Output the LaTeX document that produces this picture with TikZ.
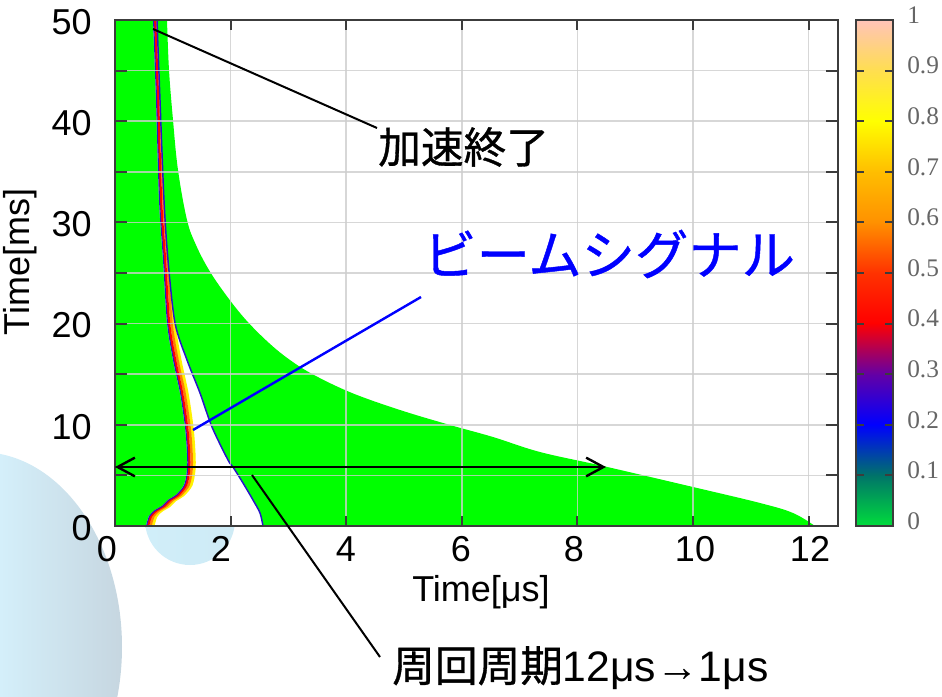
\documentclass[tikz,border=0pt]{standalone}
\usepackage{fontspec}
\setmainfont{Liberation Sans}
\newfontfamily\jpfont[FakeBold=0.8]{Noto Sans CJK JP}
\newfontfamily\barfont{Liberation Serif}
\usetikzlibrary{arrows.meta}

\definecolor{plotgreen}{RGB}{0,255,0}
\definecolor{beamblue}{RGB}{40,20,200}
\definecolor{labelblue}{RGB}{0,0,255}
\definecolor{gridgray}{RGB}{205,205,205}
\definecolor{framegray}{RGB}{60,60,60}
\definecolor{ballleft}{RGB}{212,239,250}
\definecolor{ballright}{RGB}{198,214,224}
\definecolor{smallball}{RGB}{208,238,249}
% colour bar stops 0 ... 1
\definecolor{cb0}{RGB}{0,220,60}
\definecolor{cb1}{RGB}{0,115,105}
\definecolor{cb2}{RGB}{0,0,255}
\definecolor{cb3}{RGB}{100,0,165}
\definecolor{cb4}{RGB}{255,0,0}
\definecolor{cb5}{RGB}{255,50,0}
\definecolor{cb6}{RGB}{255,145,0}
\definecolor{cb7}{RGB}{255,190,0}
\definecolor{cb8}{RGB}{255,255,0}
\definecolor{cb9}{RGB}{255,222,80}
\definecolor{cb10}{RGB}{255,195,185}

\begin{document}
\begin{tikzpicture}[x=0.75pt,y=-0.75pt,
  tick label/.style={font=\fontsize{27}{30}\selectfont, inner sep=0pt},
  bar label/.style={font=\barfont\fontsize{19}{22}\selectfont, text=black!60, anchor=west, inner sep=0pt},
  jp label/.style={font=\jpfont\fontsize{32}{36}\selectfont, inner sep=0pt, anchor=west},
  leader/.style={black, line width=1.5pt}]
\useasboundingbox (0,0) rectangle (942,696);

% background balls
\begin{scope}
  \clip (-20,647) ellipse [x radius=106.5pt, y radius=146.25pt];
  \shade[left color=ballleft, right color=ballright] (0,440) rectangle (123,696);
\end{scope}
\shade[left color=smallball, right color=smallball!85!ballright] (190,520) circle [radius=33.75pt];

% plot area
\fill[white] (115,20) rectangle (838,526);
\fill[plotgreen] (115,20) -- plot[smooth, tension=0.6] coordinates {(167,20) (169,70) (173,120) (178,170) (187,220) (196,245) (209,270) (226,295) (246,320) (269,343) (290,360) (314,375) (352,393) (400,410) (450,425) (493,437) (540,452) (603,466) (693,487) (760,503) (793,513) (815,526)} -- (115,526) -- cycle;

% beam signal
\begin{scope}
  \clip plot[smooth] coordinates {(153,20) (156,100) (159,200) (163,260) (167,323) (173,360) (180,393) (185,427) (187,453) (187,470) (184,485) (176,495) (168,500) (162,506) (155,510) (149,516) (146,526)}
     -- plot[smooth] coordinates {(263,526) (260,513) (253,500) (243,483) (233,467) (228,460) (212,427) (200,393) (187,360) (175,323) (168,260) (164,200) (160,100) (157,20)} -- cycle;
  \fill[white] (115,20) rectangle (838,526);
  \foreach \dx/\col/\lw in {7/yellow/3, 4.5/orange/2.5, 2/red/2.5, 0/beamblue/2.2}
    \draw[\col, line width=\lw*0.75pt, xshift=\dx*0.75pt] plot[smooth] coordinates {(153,20) (156,100) (159,200) (163,260) (167,323) (173,360) (180,393) (185,427) (187,453) (187,470) (184,485) (176,495) (168,500) (162,506) (155,510) (149,516) (146,526)};
\end{scope}
\draw[beamblue, line width=1.1pt] plot[smooth] coordinates {(263,526) (260,513) (253,500) (243,483) (233,467) (228,460) (212,427) (200,393) (187,360) (175,323) (168,260) (164,200) (160,100) (157,20)};

% grid
\foreach \k in {2,4,...,12}
  \draw[gridgray, line width=1.1pt, opacity=0.8] ({115+57.8*\k},20) -- ({115+57.8*\k},526);
\foreach \v in {5,10,...,45}
  \draw[gridgray, line width=1.1pt, opacity=0.8] (115,{526-10.12*\v}) -- (838,{526-10.12*\v});

% frame and ticks
\draw[framegray, line width=1.5pt] (115,20) rectangle (838,526);
\foreach \v in {5,10,...,45} {
  \draw[framegray, line width=1.5pt] (115,{526-10.12*\v}) -- ++(12,0);
  \draw[framegray, line width=1.5pt] (838,{526-10.12*\v}) -- ++(-12,0);
}
\foreach \k in {2,4,...,12} {
  \draw[framegray, line width=1.5pt] ({115+57.8*\k},20) -- ++(0,10);
  \draw[framegray, line width=1.5pt] ({115+57.8*\k},526) -- ++(0,-10);
}

% colour bar
\foreach \i in {0,...,9} {
  \pgfmathtruncatemacro{\j}{\i+1}
  \shade[bottom color=cb\i, top color=cb\j] (856,{526-50.6*\i}) rectangle (893,{525.5-50.6*\j});
}
\draw[framegray, line width=1.2pt] (856,20) rectangle (893,526);
\foreach \i in {1,...,9} {
  \draw[framegray, line width=1.5pt] (856,{526-50.6*\i}) -- ++(8,0);
  \draw[framegray, line width=1.5pt] (893,{526-50.6*\i}) -- ++(-8,0);
}
\foreach \i/\t in {0/0,1/0.1,2/0.2,3/0.3,4/0.4,5/0.5,6/0.6,7/0.7,8/0.8,9/0.9,10/1}
  \node[bar label] (bar\i) at (907,{521-50.6*\i}) {\t};

% axis labels
\foreach \v in {0,10,...,50}
  \node[tick label, anchor=east] (ytick\v) at (92,{528-10.12*\v}) {\v};
\foreach \v/\px in {0/107,2/221,4/346,6/461,8/574,10/695,12/810}
  \node[tick label] (xtick\v) at (\px,549) {\v};
\node[tick label, rotate=90] (ylab) at (20,262) {Time[ms]};
\node[tick label] (xlab) at (481,592) {Time[μs]};

% annotations
\node[jp label] (accel) at (378,147) {加速終了};
\coordinate (accelend) at (153,29);
\draw[leader] (accelend) -- ([shift={(-1,-19)}]accel.west);

\node[jp label, font=\jpfont\fontsize{40}{44}\selectfont, text=labelblue] (beamsig) at (423,254) {ビームシグナル};
\coordinate (beamend) at (193,430);
\draw[labelblue, line width=1.8pt] (beamend) -- ([shift={(-2,43)}]beamsig.west);

\coordinate (arrleft) at (115,467);
\coordinate (arrright) at (606,467);
\draw[black, line width=1.8pt, {Straight Barb[length=13pt,width=14pt]}-{Straight Barb[length=13pt,width=14pt]}] (arrleft) -- (arrright);

\node[jp label, font=\fontsize{32}{36}\selectfont] (period) at (392,668) {{\jpfont 周回周期}12μs→1μs};
\coordinate (periodend) at (252,475);
\draw[leader] (periodend) -- ([shift={(-12,-11)}]period.west);

\end{tikzpicture}
\end{document}
